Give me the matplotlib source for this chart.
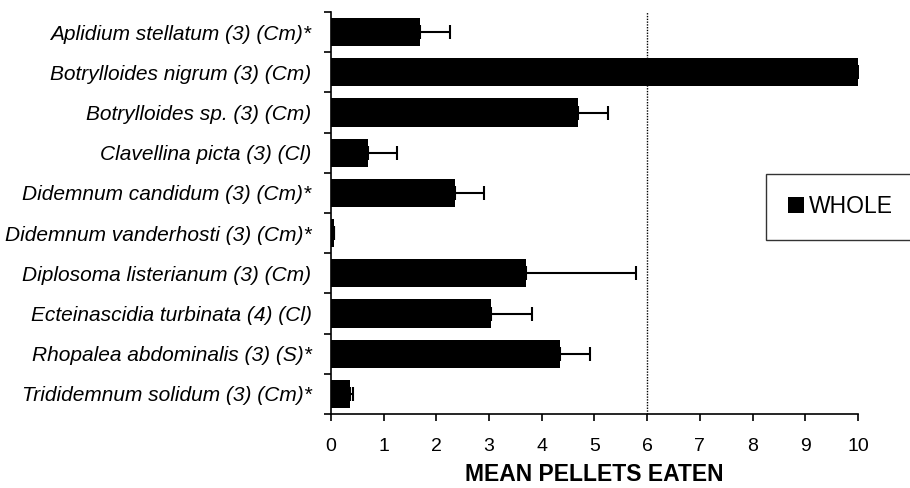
import numpy as np
import matplotlib.pyplot as plt
from matplotlib.patches import Patch

plt.rcParams['font.family'] = ['Liberation Sans', 'DejaVu Sans']

# 数据
species = [
    'Aplidium stellatum (3) (Cm)*',
    'Botrylloides nigrum (3) (Cm)',
    'Botrylloides sp. (3) (Cm)',
    'Clavellina picta (3) (Cl)',
    'Didemnum candidum (3) (Cm)*',
    'Didemnum vanderhosti (3) (Cm)*',
    'Diplosoma listerianum (3) (Cm)',
    'Ecteinascidia turbinata (4) (Cl)',
    'Rhopalea abdominalis (3) (S)*',
    'Trididemnum solidum (3) (Cm)*',
]
mean_pellets = [1.69, 10.0, 4.69, 0.70, 2.35, 0.05, 3.70, 3.03, 4.34, 0.37]
err_pellets = [0.57, 0.0, 0.57, 0.55, 0.55, 0.0, 2.09, 0.79, 0.57, 0.04]
threshold = 6

fig = plt.figure(figsize=(9.1, 4.88), dpi=100)
ax = fig.add_axes([0.3637, 0.1516, 0.5791, 0.8238])

y = np.arange(len(species))
ax.barh(y, mean_pellets, height=0.7, color='black', zorder=2)
ax.errorbar(mean_pellets, y, xerr=[np.zeros(len(err_pellets)), err_pellets],
            fmt='none', ecolor='black', elinewidth=1.5, capsize=5, capthick=1.5, zorder=3)

# 阈值虚线
ax.axvline(threshold, color='black', linestyle=(0, (1, 1)), linewidth=1, zorder=1)

ax.set_xlim(0, 10)
ax.set_ylim(len(species) - 0.5, -0.5)
ax.set_xticks(range(0, 11))
ax.set_yticks(y)
ax.set_yticklabels(species, fontstyle='italic', fontsize=15)
ax.set_yticks(np.arange(-0.5, len(species)), minor=True)
ax.tick_params(axis='y', which='major', length=0, pad=14)
ax.tick_params(axis='y', which='minor', length=5, width=1.2)
ax.tick_params(axis='x', length=5, width=1.2, labelsize=14, pad=12)
ax.set_xlabel('MEAN PELLETS EATEN', fontsize=16.5, fontweight='bold', labelpad=6)

for side in ['top', 'right']:
    ax.spines[side].set_visible(False)
for side in ['left', 'bottom']:
    ax.spines[side].set_linewidth(1.2)

leg = fig.legend(handles=[Patch(facecolor='black', label='WHOLE')],
                 loc='center left', bbox_to_anchor=(0.842, 0.576),
                 fontsize=16.5, frameon=True, fancybox=False, borderpad=0.95,
                 handlelength=0.7, handleheight=0.7, handletextpad=0.2,
                 borderaxespad=0)
leg.get_frame().set_edgecolor('black')
leg.get_frame().set_linewidth(1)

plt.savefig('out.png', dpi=100)
